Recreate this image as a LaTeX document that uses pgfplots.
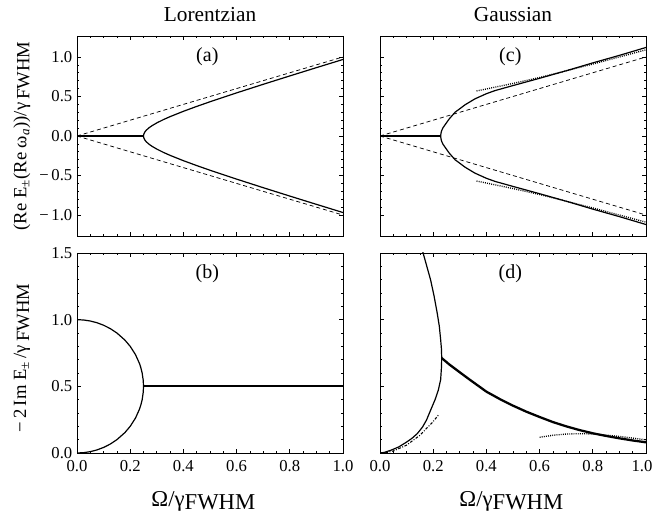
\documentclass[border=0pt]{standalone}
\usepackage{fontspec}
\setmainfont{Liberation Serif}
\usepackage{pgfplots}
\pgfplotsset{compat=1.18}
\pgfplotsset{
  myax/.style={
    scale only axis, width=199.5pt, height=150pt,
    xmin=0, xmax=1,
    tick align=inside,
    xtick={0,0.2,0.4,0.6,0.8,1.0}, minor x tick num=3,
    minor y tick num=4,
    major tick length=3pt, minor tick length=1.8pt,
    tick style={black, line width=0.5pt},
    axis line style={line width=0.6pt},
    ticklabel style={font=\fontsize{12.5}{13}\selectfont},
    xticklabel style={yshift=-2pt},
    clip=true,
  },
  thin/.style={black, line width=0.9pt},
  thk/.style={black, line width=1.7pt},
  dsh/.style={black, line width=0.55pt, dash pattern=on 3pt off 2.2pt},
  dtt/.style={black, line width=1pt, dash pattern=on 0.7pt off 0.9pt},
  dshd/.style={black, line width=0.8pt, dash pattern=on 2pt off 1.2pt on 0.7pt off 1.2pt},
}
\newcommand{\pl}[1]{\node[font=\fontsize{15}{15}\selectfont] at (axis description cs:0.49,0.895) {#1};}
\newcommand{\lo}[1]{\raisebox{-0.35ex}{#1}}
\begin{document}
\begin{tikzpicture}
\useasboundingbox (0,0) rectangle (489.75pt,388.5pt);
% (a)
\begin{axis}[myax, at={(57.75pt,211.5pt)}, anchor=south west,
  ymin=-1.265, ymax=1.265, ytick={-1,-0.5,0,0.5,1}, yticklabels={−\,1.0,−\,0.5,0.0,0.5,1.0},
  xticklabels={}]
\addplot[dsh] coordinates {(0,0) (1,1)};
\addplot[dsh] coordinates {(0,0) (1,-1)};
\addplot[thk] coordinates {(0,0) (0.25,0)};
\addplot[thin] coordinates {(1,0.9682) (0.9,0.8646) (0.8,0.7599) (0.7,0.6538) (0.6,0.5454) (0.5,0.4330) (0.45,0.3742) (0.4,0.3122) (0.35,0.2449) (0.325,0.2077) (0.3,0.1658) (0.28,0.126) (0.27,0.102) (0.26,0.0714) (0.255,0.0502) (0.251,0.0224) (0.25,0)
 (0.251,-0.0224) (0.255,-0.0502) (0.26,-0.0714) (0.27,-0.102) (0.28,-0.126) (0.3,-0.1658) (0.325,-0.2077) (0.35,-0.2449) (0.4,-0.3122) (0.45,-0.3742) (0.5,-0.4330) (0.6,-0.5454) (0.7,-0.6538) (0.8,-0.7599) (0.9,-0.8646) (1,-0.9682)};
\pl{(a)}
\end{axis}
% (b)
\begin{axis}[myax, at={(57.75pt,48.75pt)}, anchor=south west,
  ymin=0, ymax=1.5, ytick={0,0.5,1,1.5}, yticklabels={0.0,0.5,1.0,1.5},
  xticklabels={0.0,0.2,0.4,0.6,0.8,1.0}]
\addplot[thin] coordinates {(0,1) (0.025,0.9975) (0.05,0.9899) (0.075,0.977) (0.1,0.9583) (0.125,0.933) (0.15,0.9) (0.18,0.847) (0.2,0.8) (0.22,0.7375) (0.235,0.6706) (0.24,0.64) (0.245,0.5995) (0.249,0.5447) (0.25,0.5)
 (0.249,0.4553) (0.245,0.4005) (0.24,0.36) (0.235,0.3294) (0.22,0.2625) (0.2,0.2) (0.18,0.153) (0.15,0.1) (0.125,0.067) (0.1,0.0417) (0.075,0.023) (0.05,0.0101) (0.025,0.0025) (0,0)};
\addplot[thk] coordinates {(0.25,0.5) (1,0.5)};
\pl{(b)}
\end{axis}
% (c)
\begin{axis}[myax, at={(285pt,211.5pt)}, anchor=south west,
  ymin=-1.265, ymax=1.265, ytick={-1,-0.5,0,0.5,1}, yticklabels={}, xticklabels={}]
\addplot[dsh] coordinates {(0,0) (1,1)};
\addplot[dsh] coordinates {(0,0) (1,-1)};
\addplot[dtt] coordinates {(0.363,0.57) (0.4,0.595) (0.45,0.63) (0.5,0.665) (0.6,0.74) (0.7,0.825) (0.8,0.91) (0.9,1.0) (1.0,1.09)};
\addplot[dtt] coordinates {(0.363,-0.57) (0.4,-0.595) (0.45,-0.63) (0.5,-0.665) (0.6,-0.74) (0.7,-0.825) (0.8,-0.91) (0.9,-1.0) (1.0,-1.09)};
\addplot[thk] coordinates {(0,0) (0.228,0)};
\addplot[thin] coordinates {(1.0,1.12) (0.9,1.02) (0.8,0.925) (0.7,0.825) (0.6,0.73) (0.5,0.638) (0.432,0.574) (0.4,0.535) (0.357,0.470) (0.32,0.395) (0.282,0.300) (0.26,0.215) (0.244,0.139) (0.237,0.105) (0.232,0.07) (0.2295,0.04) (0.228,0)
 (0.2295,-0.04) (0.232,-0.07) (0.237,-0.105) (0.244,-0.139) (0.26,-0.215) (0.282,-0.300) (0.32,-0.395) (0.357,-0.470) (0.4,-0.535) (0.432,-0.574) (0.5,-0.638) (0.6,-0.73) (0.7,-0.825) (0.8,-0.925) (0.9,-1.02) (1.0,-1.12)};
\pl{(c)}
\end{axis}
% (d)
\begin{axis}[myax, at={(285pt,48.75pt)}, anchor=south west,
  ymin=0, ymax=1.5, ytick={0,0.5,1,1.5}, yticklabels={},
  xticklabels={0.0,0.2,0.4,0.6,0.8,\hspace*{-6pt}1.0}]
\addplot[dshd] coordinates {(0.02,0.002) (0.05,0.015) (0.1,0.059) (0.15,0.133) (0.2,0.236) (0.222,0.291)};
\addplot[dtt] coordinates {(0.6,0.118) (0.65,0.133) (0.7,0.142) (0.75,0.145) (0.8,0.143) (0.85,0.135) (0.9,0.124) (0.95,0.112) (1.0,0.098)};
\addplot[thin] coordinates {(0.150,1.6) (0.162,1.5) (0.176,1.4) (0.19,1.3) (0.203,1.18) (0.215,1.05) (0.223,0.95) (0.228,0.85) (0.231,0.78) (0.232,0.712) (0.231,0.64) (0.228,0.55) (0.219,0.47) (0.207,0.40) (0.19,0.32) (0.175,0.248) (0.16,0.195) (0.14,0.145) (0.12,0.11) (0.1,0.082) (0.07,0.045) (0.04,0.02) (0.015,0.004) (0,0)};
\addplot[thk] coordinates {(0.232,0.712) (0.26,0.665) (0.3,0.605) (0.338,0.549) (0.4,0.46) (0.45,0.405) (0.5,0.355) (0.55,0.31) (0.6,0.27) (0.65,0.232) (0.7,0.2) (0.75,0.172) (0.8,0.148) (0.85,0.128) (0.9,0.11) (0.95,0.094) (1.0,0.08)};
\pl{(d)}
\end{axis}
% titles and labels
\node[anchor=base, font=\fontsize{16}{16}\selectfont] at (157.5pt,372.2pt) {Lorentzian};
\node[anchor=base, font=\fontsize{16}{16}\selectfont] at (384.75pt,372.2pt) {Gaussian};
\node[anchor=base, font=\fontsize{17}{17}\selectfont] at (152.5pt,9pt) {Ω/γ\lo{FWHM}};
\node[anchor=base, font=\fontsize{17}{17}\selectfont] at (383.5pt,9pt) {Ω/γ\lo{FWHM}};
\node[rotate=90, font=\fontsize{14}{14}\selectfont] at (16.5pt,286.5pt) {(Re E\textsubscript{±}(Re ω\textsubscript{\textit{a}}))/γ\lo{\,FWHM}};
\node[rotate=90, font=\fontsize{14}{14}\selectfont] at (16.5pt,120pt) {−\,2\,Im E\textsubscript{±}\,/γ\lo{\,FWHM}};
\end{tikzpicture}
\end{document}
